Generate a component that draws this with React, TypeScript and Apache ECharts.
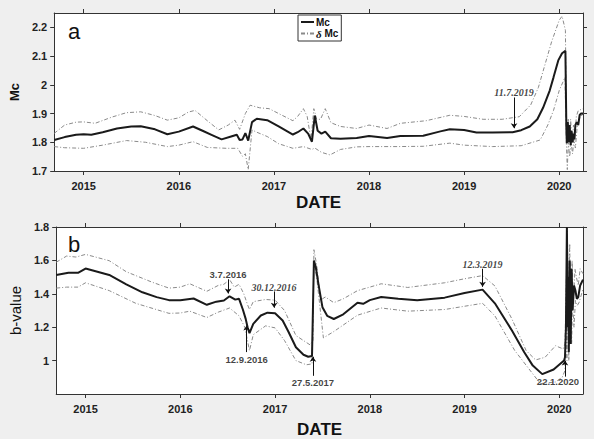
import React, { useEffect, useRef } from "react";
import * as echarts from "echarts";

// ---------- data (decimal years, values) ----------
const yearTicks = [2015, 2016, 2017, 2018, 2019, 2020];
const mcTicks = [1.7, 1.8, 1.9, 2.0, 2.1, 2.2];
const bTicks = [1.0, 1.2, 1.4, 1.6, 1.8];

const mcMain: [number, number][] = [
  [2014.69, 1.808], [2014.8, 1.818], [2014.92, 1.826], [2015.0, 1.828], [2015.08, 1.826], [2015.2, 1.835],
  [2015.35, 1.848], [2015.5, 1.855], [2015.6, 1.856], [2015.75, 1.845], [2015.88, 1.828], [2016.0, 1.837],
  [2016.15, 1.855], [2016.25, 1.84], [2016.35, 1.825], [2016.45, 1.81], [2016.55, 1.82], [2016.61, 1.826],
  [2016.64, 1.808], [2016.67, 1.81], [2016.7, 1.832], [2016.73, 1.806], [2016.77, 1.87], [2016.82, 1.882],
  [2016.93, 1.877], [2017.05, 1.855], [2017.2, 1.827], [2017.25, 1.835], [2017.31, 1.848], [2017.36, 1.83],
  [2017.4, 1.802], [2017.43, 1.893], [2017.46, 1.84], [2017.5, 1.83], [2017.54, 1.837], [2017.6, 1.814],
  [2017.7, 1.812], [2017.87, 1.815], [2018.0, 1.822], [2018.19, 1.815], [2018.33, 1.822], [2018.57, 1.823],
  [2018.75, 1.838], [2018.85, 1.845], [2019.0, 1.843], [2019.13, 1.834], [2019.3, 1.834], [2019.51, 1.835],
  [2019.6, 1.842], [2019.69, 1.855], [2019.77, 1.88], [2019.83, 1.92], [2019.9, 1.98], [2019.94, 2.026],
  [2019.99, 2.085], [2020.03, 2.11], [2020.065, 2.118], [2020.075, 1.85], [2020.08, 1.797], [2020.09, 1.87],
  [2020.1, 1.8], [2020.11, 1.86], [2020.12, 1.79], [2020.13, 1.84], [2020.14, 1.8], [2020.15, 1.83],
  [2020.16, 1.81], [2020.17, 1.86], [2020.185, 1.87], [2020.2, 1.86], [2020.215, 1.895], [2020.23, 1.9],
  [2020.25, 1.9],
];

const mcUpper: [number, number][] = [
  [2014.69, 1.831], [2014.8, 1.86], [2014.92, 1.87], [2015.0, 1.871], [2015.12, 1.866], [2015.3, 1.888],
  [2015.45, 1.903], [2015.6, 1.906], [2015.75, 1.893], [2015.88, 1.877], [2016.0, 1.885], [2016.1, 1.905],
  [2016.17, 1.911], [2016.3, 1.875], [2016.42, 1.843], [2016.52, 1.86], [2016.59, 1.877], [2016.64, 1.845],
  [2016.7, 1.9], [2016.75, 1.929], [2016.85, 1.92], [2016.95, 1.917], [2017.05, 1.9], [2017.2, 1.875],
  [2017.25, 1.89], [2017.31, 1.917], [2017.35, 1.89], [2017.39, 1.808], [2017.42, 1.917], [2017.45, 1.88],
  [2017.49, 1.88], [2017.54, 1.917], [2017.6, 1.868], [2017.7, 1.855], [2017.87, 1.848], [2018.0, 1.86],
  [2018.19, 1.848], [2018.33, 1.866], [2018.6, 1.875], [2018.85, 1.894], [2019.0, 1.89], [2019.2, 1.88],
  [2019.4, 1.88], [2019.58, 1.889], [2019.7, 1.93], [2019.78, 1.99], [2019.85, 2.07], [2019.92, 2.15],
  [2020.0, 2.225], [2020.03, 2.239], [2020.065, 2.19], [2020.075, 1.9], [2020.085, 1.797], [2020.095, 1.88],
  [2020.11, 1.81], [2020.12, 1.88], [2020.135, 1.8], [2020.15, 1.86], [2020.165, 1.82], [2020.18, 1.89],
  [2020.2, 1.91], [2020.25, 1.917],
];

const mcLower: [number, number][] = [
  [2014.69, 1.785], [2014.8, 1.781], [2015.0, 1.779], [2015.2, 1.79], [2015.45, 1.806], [2015.65, 1.8],
  [2015.88, 1.785], [2016.0, 1.79], [2016.15, 1.802], [2016.3, 1.782], [2016.5, 1.779], [2016.62, 1.779],
  [2016.67, 1.751], [2016.7, 1.76], [2016.73, 1.705], [2016.77, 1.843], [2016.82, 1.835], [2016.93, 1.82],
  [2017.05, 1.795], [2017.2, 1.779], [2017.31, 1.785], [2017.4, 1.775], [2017.43, 1.78], [2017.5, 1.765],
  [2017.59, 1.756], [2017.7, 1.775], [2017.87, 1.784], [2018.0, 1.785], [2018.3, 1.785], [2018.57, 1.786],
  [2018.85, 1.797], [2019.0, 1.79], [2019.3, 1.785], [2019.6, 1.788], [2019.8, 1.808], [2019.88, 1.86],
  [2019.94, 1.911], [2020.0, 1.98], [2020.06, 2.026], [2020.075, 1.8], [2020.085, 1.705], [2020.095, 1.8],
  [2020.11, 1.75], [2020.125, 1.8], [2020.14, 1.76], [2020.155, 1.81], [2020.17, 1.78], [2020.19, 1.86],
  [2020.21, 1.88], [2020.25, 1.9],
];

const bMain: [number, number][] = [
  [2014.69, 1.513], [2014.82, 1.526], [2014.92, 1.526], [2015.0, 1.551], [2015.25, 1.513], [2015.43, 1.457],
  [2015.6, 1.409], [2015.75, 1.38], [2015.88, 1.362], [2016.0, 1.362], [2016.14, 1.372], [2016.28, 1.334],
  [2016.38, 1.353], [2016.46, 1.36], [2016.52, 1.385], [2016.58, 1.365], [2016.62, 1.37], [2016.66, 1.306],
  [2016.69, 1.25], [2016.71, 1.2], [2016.73, 1.164], [2016.77, 1.22], [2016.85, 1.27], [2016.92, 1.287],
  [2017.0, 1.283], [2017.08, 1.24], [2017.14, 1.174], [2017.22, 1.08], [2017.3, 1.035], [2017.35, 1.023],
  [2017.39, 1.028], [2017.41, 1.6], [2017.43, 1.56], [2017.46, 1.45], [2017.5, 1.32], [2017.55, 1.268],
  [2017.62, 1.249], [2017.72, 1.277], [2017.87, 1.347], [2017.93, 1.34], [2018.0, 1.362], [2018.12, 1.381],
  [2018.3, 1.37], [2018.5, 1.362], [2018.79, 1.377], [2019.0, 1.405], [2019.19, 1.425], [2019.32, 1.343],
  [2019.5, 1.18], [2019.63, 1.05], [2019.72, 0.97], [2019.82, 0.919], [2019.94, 0.947], [2020.05, 1.0],
  [2020.06, 1.02], [2020.07, 1.2], [2020.08, 1.8], [2020.09, 1.2], [2020.095, 1.5], [2020.1, 1.05],
  [2020.11, 1.6], [2020.12, 1.1], [2020.13, 1.55], [2020.14, 1.3], [2020.155, 1.45], [2020.17, 1.42],
  [2020.185, 1.37], [2020.2, 1.38], [2020.22, 1.45], [2020.25, 1.485],
];

const bUpper: [number, number][] = [
  [2014.69, 1.589], [2014.8, 1.626], [2014.9, 1.62], [2015.0, 1.636], [2015.25, 1.598], [2015.43, 1.532],
  [2015.7, 1.47], [2015.88, 1.434], [2016.0, 1.44], [2016.1, 1.46], [2016.28, 1.415], [2016.4, 1.45],
  [2016.46, 1.457], [2016.52, 1.485], [2016.57, 1.44], [2016.62, 1.457], [2016.67, 1.4], [2016.71, 1.334],
  [2016.73, 1.306], [2016.77, 1.353], [2016.9, 1.366], [2017.0, 1.362], [2017.1, 1.3], [2017.22, 1.15],
  [2017.3, 1.12], [2017.37, 1.094], [2017.4, 1.12], [2017.41, 1.664], [2017.44, 1.57], [2017.48, 1.362],
  [2017.53, 1.381], [2017.62, 1.347], [2017.72, 1.37], [2017.87, 1.419], [2018.0, 1.44], [2018.12, 1.46],
  [2018.4, 1.438], [2018.79, 1.466], [2019.0, 1.49], [2019.19, 1.509], [2019.32, 1.447], [2019.5, 1.249],
  [2019.65, 1.06], [2019.75, 1.004], [2019.85, 1.02], [2019.96, 1.089], [2020.04, 1.07], [2020.06, 1.1],
  [2020.075, 1.5], [2020.085, 1.8], [2020.095, 1.3], [2020.11, 1.7], [2020.12, 1.2], [2020.135, 1.6],
  [2020.15, 1.35], [2020.165, 1.55], [2020.18, 1.5], [2020.2, 1.45], [2020.22, 1.55], [2020.25, 1.52],
];

const bLower: [number, number][] = [
  [2014.69, 1.434], [2014.8, 1.44], [2014.92, 1.44], [2015.0, 1.466], [2015.25, 1.419], [2015.53, 1.343],
  [2015.88, 1.283], [2016.0, 1.285], [2016.1, 1.296], [2016.28, 1.258], [2016.4, 1.29], [2016.52, 1.315],
  [2016.62, 1.268], [2016.68, 1.2], [2016.73, 1.06], [2016.77, 1.155], [2016.9, 1.208], [2017.0, 1.196],
  [2017.1, 1.12], [2017.22, 1.0], [2017.33, 0.975], [2017.39, 0.98], [2017.41, 1.589], [2017.44, 1.494],
  [2017.51, 1.136], [2017.62, 1.174], [2017.87, 1.272], [2018.12, 1.315], [2018.4, 1.296], [2018.79, 1.306],
  [2019.19, 1.343], [2019.32, 1.268], [2019.53, 1.06], [2019.8, 0.862], [2019.96, 0.872], [2020.03, 0.9],
  [2020.06, 0.94], [2020.07, 1.3], [2020.08, 1.0], [2020.09, 1.6], [2020.1, 1.0], [2020.115, 1.4],
  [2020.13, 1.1], [2020.14, 1.35], [2020.155, 1.2], [2020.17, 1.36], [2020.19, 1.33], [2020.21, 1.35],
  [2020.25, 1.43],
];

// annotations: label, date, text value, arrow start, arrow end, italic serif?
const topNotes = [
  { label: "11.7.2019", date: 2019.525, textAt: 1.972, from: 1.956, to: 1.849, italic: true },
];
const bottomNotes = [
  { label: "3.7.2016", date: 2016.504, textAt: 1.516, from: 1.487, to: 1.402, italic: false },
  { label: "12.9.2016", date: 2016.7, textAt: 1.004, from: 1.051, to: 1.21, italic: false },
  { label: "30.12.2016", date: 2016.99, textAt: 1.436, from: 1.414, to: 1.317, italic: true },
  { label: "27.5.2017", date: 2017.4, textAt: 0.868, from: 0.909, to: 1.023, italic: false },
  { label: "12.3.2019", date: 2019.19, textAt: 1.578, from: 1.55, to: 1.442, italic: true },
  { label: "22.1.2020", date: 2020.06, textAt: 0.874, from: 0.904, to: 1.0, italic: false },
];

const X_MIN = 2014.69;
const X_MAX = 2020.25;

const SANS = "'Liberation Sans', Arial, sans-serif";
const SERIF = "'Liberation Serif', 'Times New Roman', serif";
const AXIS_COLOR = "#333";
const MAIN_COLOR = "#1a1a1a";
const BOUND_COLOR = "#8a8a8a";

function fmt(v: number) {
  return String(Number(v.toFixed(2)));
}

export default function App() {
  const ref = useRef<HTMLDivElement>(null);
  useEffect(() => {
    if (!ref.current) return;
    const chart = echarts.init(ref.current, null, { renderer: "svg" });

    const xBottom = (grid: number) => ({
      type: "value",
      gridIndex: grid,
      min: X_MIN,
      max: X_MAX,
      position: "bottom",
      name: "DATE",
      nameLocation: "middle",
      nameGap: grid === 0 ? 23 : 27,
      nameTextStyle: { fontFamily: SANS, fontWeight: "bold", fontSize: 17, color: "#111" },
      axisLine: { show: true, onZero: false, lineStyle: { color: AXIS_COLOR, width: 1 } },
      axisTick: { show: true, inside: false, length: 4, customValues: yearTicks, lineStyle: { color: AXIS_COLOR } },
      axisLabel: {
        show: true,
        customValues: yearTicks,
        margin: 9,
        fontFamily: SANS,
        fontWeight: "bold",
        fontSize: 11,
        color: "#222",
        formatter: (v: number) => String(Math.round(v)),
      },
      splitLine: { show: false },
    });
    const xTop = (grid: number) => ({
      type: "value",
      gridIndex: grid,
      min: X_MIN,
      max: X_MAX,
      position: "top",
      axisLine: { show: true, onZero: false, lineStyle: { color: AXIS_COLOR, width: 1 } },
      axisTick: { show: true, inside: false, length: 4, customValues: yearTicks, lineStyle: { color: AXIS_COLOR } },
      axisLabel: { show: false, customValues: yearTicks },
      splitLine: { show: false },
    });
    const yLeft = (grid: number, min: number, max: number, ticks: number[], name: string, bold: boolean) => ({
      type: "value",
      gridIndex: grid,
      min,
      max,
      position: "left",
      name,
      nameLocation: "middle",
      nameRotate: 90,
      nameGap: bold ? 23 : 24,
      nameTextStyle: {
        fontFamily: SANS,
        fontWeight: bold ? "bold" : "normal",
        fontSize: bold ? 13 : 15,
        color: "#111",
      },
      axisLine: { show: true, onZero: false, lineStyle: { color: AXIS_COLOR, width: 1 } },
      axisTick: { show: true, inside: false, length: 4, customValues: ticks, lineStyle: { color: AXIS_COLOR } },
      axisLabel: {
        show: true,
        customValues: ticks,
        margin: 7,
        fontFamily: SANS,
        fontWeight: "bold",
        fontSize: 11,
        color: "#222",
        formatter: (v: number) => fmt(v),
      },
      splitLine: { show: false },
    });
    const yRight = (grid: number, min: number, max: number, ticks: number[]) => ({
      type: "value",
      gridIndex: grid,
      min,
      max,
      position: "right",
      axisLine: { show: true, onZero: false, lineStyle: { color: AXIS_COLOR, width: 1 } },
      axisTick: { show: true, inside: false, length: 4, customValues: ticks, lineStyle: { color: AXIS_COLOR } },
      axisLabel: { show: false, customValues: ticks },
      splitLine: { show: false },
    });

    const lineSeries = (name: string, data: [number, number][], grid: number, main: boolean) => ({
      type: "line",
      name,
      xAxisIndex: grid * 2,
      yAxisIndex: grid * 2,
      data,
      showSymbol: false,
      symbol: "none",
      smooth: false,
      z: main ? 4 : 3,
      lineStyle: main
        ? { color: MAIN_COLOR, width: 2 }
        : { color: BOUND_COLOR, width: 1, type: [4, 2, 1, 2] },
      itemStyle: { color: main ? MAIN_COLOR : BOUND_COLOR },
    });

    const noteText = (notes: typeof bottomNotes, grid: number) => ({
      type: "scatter",
      xAxisIndex: grid * 2,
      yAxisIndex: grid * 2,
      symbolSize: 0,
      silent: true,
      z: 6,
      data: notes.map((n) => ({
        name: n.label,
        value: [n.date, n.textAt],
        label: {
          show: true,
          position: "inside",
          formatter: "{b}",
          fontFamily: n.italic ? SERIF : SANS,
          fontStyle: n.italic ? "italic" : "normal",
          fontWeight: "bold",
          fontSize: n.italic ? 10 : 9.5,
          color: "#111",
          offset: n.label === "22.1.2020" ? [-7, 0] : [0, 0],
        },
      })),
    });
    const noteArrows = (notes: typeof bottomNotes, grid: number) => ({
      type: "lines",
      coordinateSystem: "cartesian2d",
      xAxisIndex: grid * 2,
      yAxisIndex: grid * 2,
      symbol: ["none", "arrow"],
      symbolSize: 5,
      silent: true,
      z: 6,
      lineStyle: { color: "#111", width: 1, opacity: 1, curveness: 0 },
      data: notes.map((n) => ({
        coords: [
          [n.date, n.from],
          [n.date, n.to],
        ],
      })),
    });

    const option: any = {
      animation: false,
      backgroundColor: "#efefef",
      grid: [
        { left: 53, right: 11, top: 13, height: 158, show: true, backgroundColor: "#ffffff", borderWidth: 0 },
        { left: 53, right: 11, top: 227, height: 176, show: true, backgroundColor: "#ffffff", borderWidth: 0 },
      ],
      title: [
        { text: "a", left: 63, top: 15, textStyle: { fontFamily: SANS, fontWeight: "normal", fontSize: 22, color: "#111" } },
        { text: "b", left: 63, top: 228, textStyle: { fontFamily: SANS, fontWeight: "normal", fontSize: 22, color: "#111" } },
      ],
      legend: {
        left: 298,
        top: 15,
        orient: "vertical",
        data: ["Mc", "δ Mc"],
        itemWidth: 13,
        itemHeight: 8,
        itemGap: 1,
        padding: [2, 3, 2, 2],
        borderColor: "#333",
        borderWidth: 1,
        backgroundColor: "#ffffff",
        selectedMode: false,
        itemStyle: { opacity: 0 },
        textStyle: {
          fontFamily: SANS,
          fontWeight: "bold",
          fontSize: 10,
          color: "#111",
          padding: [0, 0, 0, -3],
          rich: {
            i: { fontFamily: SERIF, fontStyle: "italic", fontSize: 11, color: "#111" },
            b: { fontFamily: SANS, fontWeight: "bold", fontSize: 10, color: "#111" },
          },
        },
        formatter: (name: string) => (name === "δ Mc" ? "{i|δ} {b|Mc}" : "{b|Mc}"),
      },
      xAxis: [xBottom(0), xTop(0), xBottom(1), xTop(1)],
      yAxis: [
        yLeft(0, 1.7, 2.25, mcTicks, "Mc", true),
        yRight(0, 1.7, 2.25, mcTicks),
        yLeft(1, 0.8, 1.8, bTicks, "b-value", false),
        yRight(1, 0.8, 1.8, bTicks),
      ],
      series: [
        lineSeries("δ Mc", mcUpper, 0, false),
        lineSeries("δ Mc", mcLower, 0, false),
        lineSeries("Mc", mcMain, 0, true),
        lineSeries("δ Mc", bUpper, 1, false),
        lineSeries("δ Mc", bLower, 1, false),
        lineSeries("Mc", bMain, 1, true),
        noteText(topNotes, 0),
        noteArrows(topNotes, 0),
        noteText(bottomNotes, 1),
        noteArrows(bottomNotes, 1),
      ],
    };
    chart.setOption(option);
    return () => chart.dispose();
  }, []);

  return (
    <div
      ref={ref}
      style={{ position: "absolute", left: 0, top: 0, width: 594, height: 439, background: "#efefef" }}
    />
  );
}
